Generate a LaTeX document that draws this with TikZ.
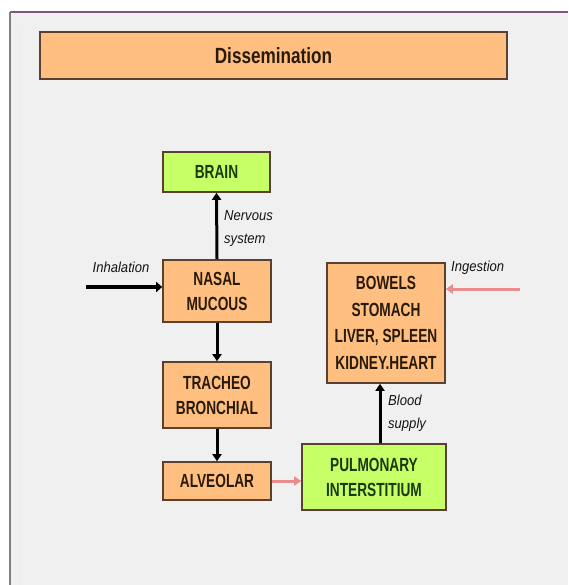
\documentclass[tikz,border=0pt]{standalone}
\usepackage{fontspec}
\setmainfont{Liberation Sans}
\newfontfamily\boxfont{Liberation Sans}[FakeStretch=0.72]
\newfontfamily\titlefont{Liberation Sans}[FakeStretch=0.78]
\newfontfamily\lblfont{Liberation Sans}[FakeStretch=0.9]
\usetikzlibrary{arrows.meta}
\definecolor{peach}{HTML}{FFBF80}
\definecolor{lime}{HTML}{C6FF66}
\definecolor{panel}{HTML}{F0F0F0}
\definecolor{pinkarrow}{HTML}{E88C8C}
\definecolor{boxedge}{HTML}{5A4030}
\definecolor{greentext}{HTML}{1C3A10}
\definecolor{browntext}{HTML}{2A1A0A}
\tikzset{
  obox/.style={draw=boxedge, line width=1.6pt, fill=peach, align=center, inner sep=0pt,
    font=\boxfont\bfseries\fontsize{19}{25}\selectfont, text=browntext},
  gbox/.style={obox, fill=lime, text=greentext},
  blackarrow/.style={line width=3pt, -{Triangle[length=7pt,width=9pt]}},
  pinkarr/.style={draw=pinkarrow, line width=3pt, -{Triangle[length=7pt,width=9pt]}},
  lbl/.style={font=\lblfont\itshape\fontsize{14.5}{23}\selectfont, text=black!92, align=left, inner sep=0pt}
}
\begin{document}
\begin{tikzpicture}[x=1pt,y=-1pt]
\useasboundingbox (0,0) rectangle (568,585);
\fill[white] (0,0) rectangle (568,585);
\fill[panel] (10,12) rectangle (568,585);
\draw[gray!70!violet, line width=1.2pt] (10,12) -- (568,12);
\draw[gray, line width=1.2pt] (10,12) -- (10,585);
\draw[white!85!gray, line width=0.8pt] (20,30) -- (20,585);
\draw[white!88!gray, line width=0.8pt] (20,572) -- (568,572);

\node[obox, minimum width=467pt, minimum height=47pt, font=\titlefont\bfseries\fontsize{22}{24}\selectfont] (title) at (273.5,55.5) {Dissemination};

\node[gbox, minimum width=107pt, minimum height=40pt] (brain) at (216.5,172) {BRAIN};
\node[obox, minimum width=108pt, minimum height=62pt] (nasal) at (217,291) {NASAL\\MUCOUS};
\node[obox, minimum width=108pt, minimum height=66pt] (trach) at (217,395) {TRACHEO\\BRONCHIAL};
\node[obox, minimum width=108pt, minimum height=38pt] (alv) at (217,481) {ALVEOLAR};
\node[gbox, minimum width=144pt, minimum height=66pt] (pulm) at (374,477) {PULMONARY\\INTERSTITIUM};
\node[obox, minimum width=118pt, minimum height=120pt, font=\boxfont\bfseries\fontsize{19}{26.5}\selectfont] (bowels) at (386,323) {BOWELS\\STOMACH\\LIVER, SPLEEN\\KIDNEY.HEART};

\coordinate (inh) at (86,287);
\coordinate (ing) at (520,289);
\coordinate (bs) at (380,0);

\draw[blackarrow, line width=4.5pt, -{Triangle[length=6pt,width=10pt]}] (inh) -- (inh -| nasal.west);
\draw[blackarrow] (nasal.north) -- (brain.south);
\draw[blackarrow] (nasal.south) -- (trach.north);
\draw[blackarrow] (trach.south) -- (alv.north);
\draw[pinkarr] (alv.east) -- (alv.east -| pulm.west);
\draw[blackarrow] (pulm.north -| bs) -- (bowels.south -| bs);
\draw[pinkarr] (ing) -- (ing -| bowels.east);

\node[lbl] (linh) at (121,267) {Inhalation};
\node[lbl, anchor=west] (lnerv) at (224,229) {Nervous\\system};
\node[lbl, anchor=west] (ling) at (451,268) {Ingestion};
\node[lbl, anchor=west] (lblood) at (388,413) {Blood\\supply};
\end{tikzpicture}
\end{document}
